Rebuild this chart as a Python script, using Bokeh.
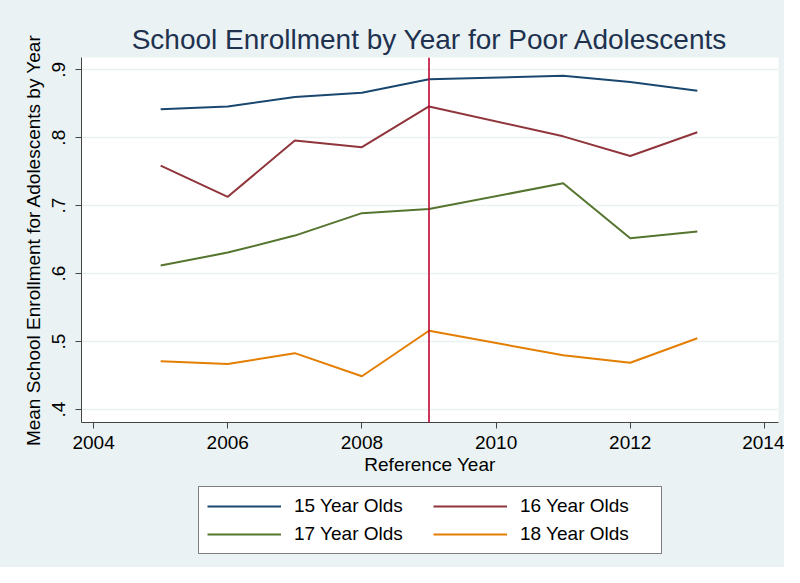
from bokeh.plotting import figure
from bokeh.layouts import column
from bokeh.models import Span, Legend, LegendItem, FixedTicker, Range1d
from bokeh.embed import file_html
from bokeh.resources import INLINE

years = [2005, 2006, 2007, 2008, 2009, 2011, 2012, 2013]
age15 = [0.842, 0.846, 0.860, 0.866, 0.886, 0.891, 0.882, 0.869]
age16 = [0.759, 0.713, 0.796, 0.786, 0.846, 0.802, 0.773, 0.808]
age17 = [0.612, 0.631, 0.656, 0.689, 0.695, 0.733, 0.652, 0.662]
age18 = [0.471, 0.467, 0.483, 0.449, 0.516, 0.480, 0.469, 0.505]
series_names = ["15 Year Olds", "16 Year Olds", "17 Year Olds", "18 Year Olds"]
series_colors = ["#1a476f", "#90353b", "#55752f", "#e37e00"]
ref_year = 2009
x_ticks = [2004, 2006, 2008, 2010, 2012, 2014]
y_ticks = [0.4, 0.5, 0.6, 0.7, 0.8, 0.9]
y_tick_labels = [".4", ".5", ".6", ".7", ".8", ".9"]

BG = "#eaf2f3"
FONT = "Liberation Sans"
W = 784
H_MAIN = 482
H_LEG = 567 - H_MAIN
LEFT = 81
RIGHT = 6

p = figure(width=W, height=H_MAIN, output_backend="svg", toolbar_location=None,
           x_range=Range1d(2003.82, 2014.21), y_range=Range1d(0.381, 0.918),
           min_border_left=LEFT, min_border_right=RIGHT, min_border_top=57,
           min_border_bottom=H_MAIN - 422,
           title="School Enrollment by Year for Poor Adolescents")
p.border_fill_color = BG
p.background_fill_color = "white"
p.outline_line_color = None

p.title.align = "center"
p.title.text_font = FONT
p.title.text_font_size = "28px"
p.title.text_font_style = "normal"
p.title.text_color = "#1e3250"
p.title.standoff = 6

series = [age15, age16, age17, age18]
for vals, col in zip(series, series_colors):
    p.line(years, vals, line_color=col, line_width=2)

p.add_layout(Span(location=ref_year, dimension="height", line_color="#c10534", line_width=1.6))

p.xgrid.visible = False
p.ygrid.grid_line_color = BG
p.ygrid.grid_line_width = 1.5
p.ygrid.ticker = FixedTicker(ticks=y_ticks)

for ax in (p.xaxis[0], p.yaxis[0]):
    ax.axis_line_color = "#444444"
    ax.major_tick_line_color = "#444444"
    ax.major_tick_out = 6
    ax.major_tick_in = 0
    ax.minor_tick_out = 0
    ax.minor_tick_in = 0
    ax.major_label_text_font = FONT
    ax.major_label_text_font_size = "19px"
    ax.major_label_text_color = "black"
    ax.axis_label_text_font = FONT
    ax.axis_label_text_font_size = "19px"
    ax.axis_label_text_font_style = "normal"
    ax.axis_label_text_color = "black"

p.xaxis.ticker = FixedTicker(ticks=x_ticks)
p.xaxis.axis_label = "Reference Year"
p.xaxis.major_label_standoff = 7
p.xaxis.axis_label_standoff = 2

p.yaxis.ticker = FixedTicker(ticks=y_ticks)
p.yaxis.major_label_overrides = {t: l for t, l in zip(y_ticks, y_tick_labels)}
p.yaxis.major_label_orientation = "vertical"
p.yaxis.axis_label = "Mean School Enrollment for Adolescents by Year"
p.yaxis.major_label_standoff = 10
p.yaxis.axis_label_standoff = 6

# legend strip below the chart (same line styles as the series; their
# stand-in data lie outside the strip's view, so only the legend shows)
pl = figure(width=W, height=H_LEG, output_backend="svg", toolbar_location=None,
            x_axis_type=None, y_axis_type=None, x_range=Range1d(0, 1), y_range=Range1d(0, 1),
            min_border_left=LEFT, min_border_right=RIGHT, min_border_top=0, min_border_bottom=0)
pl.border_fill_color = BG
pl.background_fill_color = BG
pl.outline_line_color = None
pl.xgrid.visible = False
pl.ygrid.visible = False
leg_renderers = [pl.line([-5, -4], [-5, -4], line_color=c, line_width=2) for c in series_colors]

items = [LegendItem(label=n, renderers=[r]) for n, r in zip(series_names, leg_renderers)]
legend = Legend(items=items, nrows=2, orientation="horizontal",
                location=(198 - LEFT, 567 - 554))
legend.label_text_font = FONT
legend.label_text_font_size = "19px"
legend.label_text_color = "black"
legend.glyph_width = 74
legend.glyph_height = 20
legend.label_standoff = 13
legend.label_width = 133
legend.spacing = 6
legend.padding = 8
legend.margin = 0
legend.border_line_color = "black"
legend.border_line_width = 1
legend.background_fill_color = "white"
legend.background_fill_alpha = 1
pl.add_layout(legend, "center")

layout = column(p, pl, spacing=0)
layout.styles = {"background-color": BG}

open("out.html", "w").write(file_html(layout, INLINE))
